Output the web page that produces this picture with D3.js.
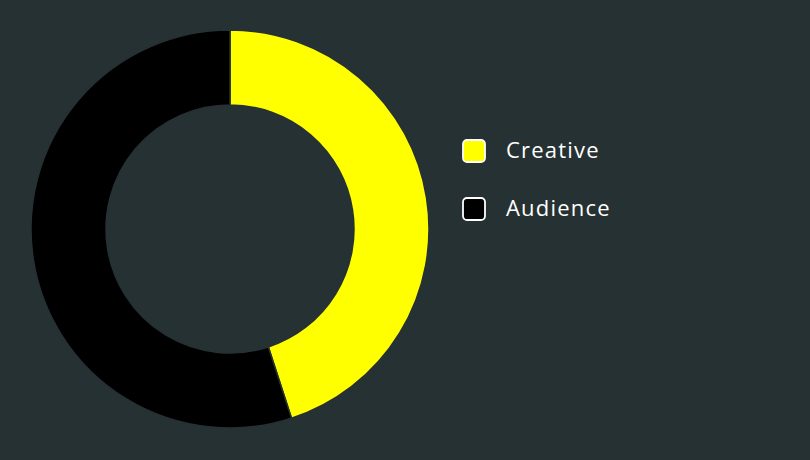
<!DOCTYPE html>
<html>
<head>
<meta charset="utf-8">
<script src="https://cdn.jsdelivr.net/npm/d3@7"></script>
<style>
  html, body { margin: 0; padding: 0; background: #263133; }
  svg { display: block; }
</style>
</head>
<body>
<div id="chart"></div>
<script>
// Chart data
const categories = ['Creative', 'Audience']
const values = [45, 55]
const colors = ['#ffff00', '#000000']

const width = 810
const height = 460
const bg = '#263133'

const svg = d3.select('#chart')
    .append('svg')
    .attr('width', width)
    .attr('height', height)

svg.append('rect')
    .attr('width', width)
    .attr('height', height)
    .attr('fill', bg)

// Donut geometry
const cx = 230
const cy = 229
const outerR = 199
const innerR = 124

const pie = d3.pie()
    .sort(null)
    .value(d => d.value)

const arc = d3.arc()
    .innerRadius(innerR)
    .outerRadius(outerR)

const data = categories.map((c, i) => ({ name: c, value: values[i], color: colors[i] }))

svg.append('g')
    .attr('transform', `translate(${cx},${cy})`)
    .selectAll('path')
    .data(pie(data))
    .enter()
    .append('path')
    .attr('d', arc)
    .attr('fill', d => d.data.color)
    .attr('stroke', bg)
    .attr('stroke-width', 1.5)

// Legend
const legend = svg.append('g')
    .attr('transform', 'translate(463,151)')

const item = legend.selectAll('g')
    .data(data)
    .enter()
    .append('g')
    .attr('transform', (d, i) => `translate(0,${i * 58})`)

item.append('rect')
    .attr('x', 0)
    .attr('y', -11)
    .attr('width', 22)
    .attr('height', 22)
    .attr('rx', 4)
    .attr('fill', d => d.color)
    .attr('stroke', '#ffffff')
    .attr('stroke-width', 1.8)

item.append('text')
    .attr('x', 43)
    .attr('y', -1)
    .attr('dy', '0.35em')
    .attr('fill', '#ffffff')
    .style('font-family', '"Open Sans", sans-serif')
    .style('font-size', '22px')
    .style('font-weight', 500)
    .style('letter-spacing', '1.2px')
    .text(d => d.name)
</script>
</body>
</html>
